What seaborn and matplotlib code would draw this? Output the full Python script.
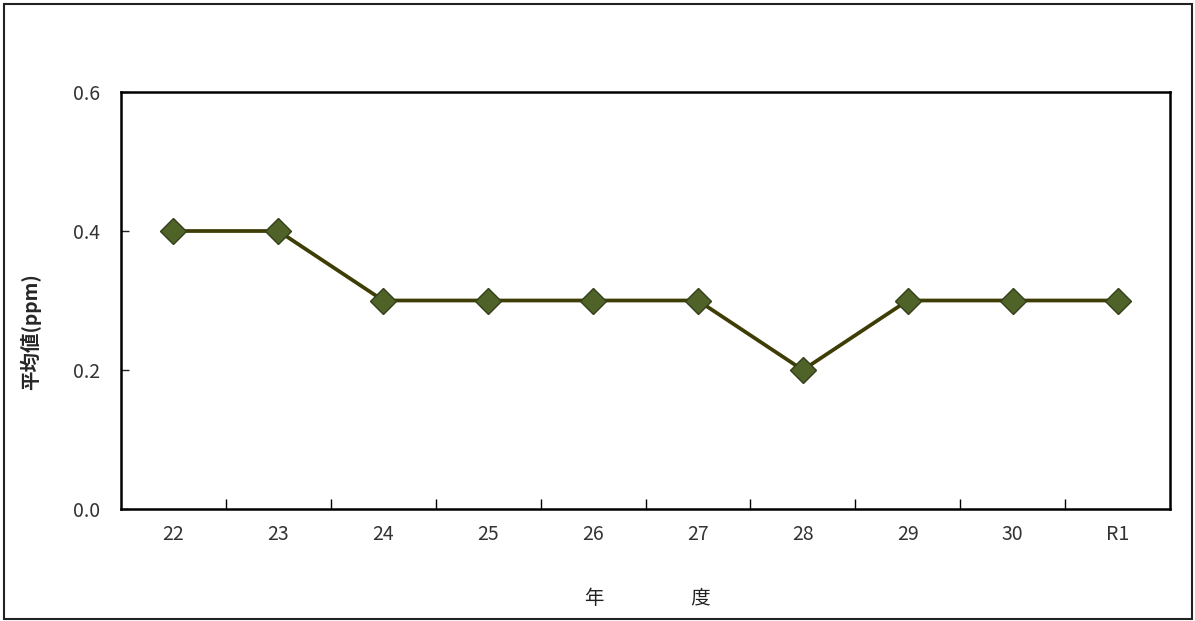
"""
Annual mean value line chart (ppm).
"""

import matplotlib
matplotlib.use("Agg")
import matplotlib.pyplot as plt
from matplotlib.patches import Rectangle
import seaborn as sns


years = ["22", "23", "24", "25", "26", "27", "28", "29", "30", "R1"]
mean_ppm = [0.4, 0.4, 0.3, 0.3, 0.3, 0.3, 0.2, 0.3, 0.3, 0.3]
y_ticks = [0.0, 0.2, 0.4, 0.6]

sns.set_style("white")
plt.rcParams["font.family"] = ["Noto Sans CJK JP", "DejaVu Sans"]

fig = plt.figure(figsize=(11.95, 6.21), dpi=100)
ax = fig.add_axes([121 / 1195, 1 - 509 / 621, 1049 / 1195, 417 / 621])

sns.lineplot(
    x=years,
    y=mean_ppm,
    sort=False,
    ax=ax,
    color="#3d3d05",
    linewidth=2.7,
    marker="D",
    markersize=13,
    markerfacecolor="#4f6228",
    markeredgecolor="#33401a",
    markeredgewidth=1.0,
)

ax.set_xlim(-0.5, len(years) - 0.5)
ax.set_ylim(0, 0.6)
ax.set_yticks(y_ticks)
ax.set_yticklabels([f"{v:.1f}" for v in y_ticks])

# category ticks sit between labels, pointing inward
ax.set_xticks(range(len(years)))
ax.set_xticklabels(years)
ax.set_xticks([i + 0.5 for i in range(len(years) - 1)], minor=True)
ax.tick_params(axis="x", which="major", length=0, pad=11,
               labelsize=14, labelcolor="#333333")
ax.tick_params(axis="x", which="minor", length=7, width=1,
               direction="in", color="black", bottom=True)
ax.tick_params(axis="y", length=6, width=1, direction="in",
               left=True, pad=15, labelsize=14, labelcolor="#333333")

for side in ax.spines.values():
    side.set_color("black")
    side.set_linewidth(1.8)

ax.set_ylabel("平均値(ppm)", fontsize=14, fontweight="bold")
ax.yaxis.set_label_coords(-0.076, 0.425)
ax.set_xlabel("年　　　　  度", fontsize=14, color="#222222")
ax.xaxis.set_label_coords(0.502, -0.19)

# outer frame around the chart
fig.add_artist(Rectangle(
    (4 / 1195, 2 / 621), 1188 / 1195, 615 / 621,
    transform=fig.transFigure, fill=False,
    edgecolor="#222222", linewidth=1.5
))

fig.savefig("out.png", dpi=100)
plt.close(fig)
